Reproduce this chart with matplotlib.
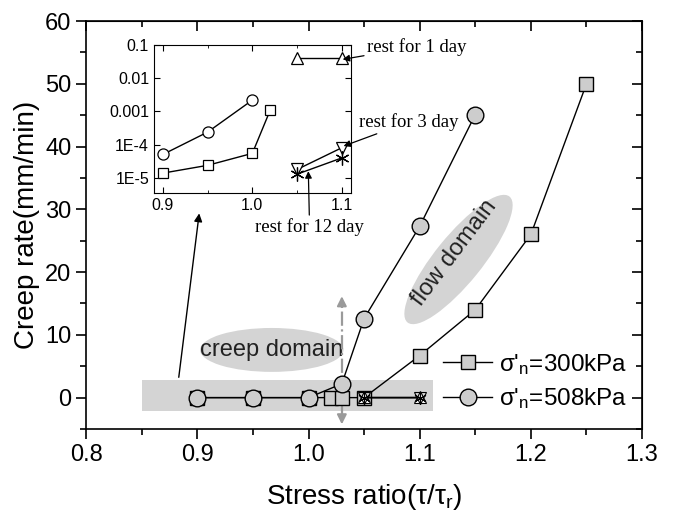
import matplotlib
matplotlib.use("Agg")
import matplotlib.pyplot as plt
from matplotlib.patches import Ellipse, Rectangle
import numpy as np

plt.rcParams['font.family'] = ['Liberation Sans', 'DejaVu Sans']
plt.rcParams['mathtext.fontset'] = 'custom'
plt.rcParams['mathtext.rm'] = 'Liberation Sans'
plt.rcParams['mathtext.it'] = 'Liberation Sans:italic'

# ---- main data ----
x_300 = [0.9, 0.95, 1.0, 1.02, 1.03, 1.05, 1.1, 1.15, 1.2, 1.25]
y_300 = [0, 0, 0, 0, 0, 0, 6.7, 14.0, 26.0, 50.0]
x_508 = [0.9, 0.95, 1.0, 1.03, 1.05, 1.1, 1.15]
y_508 = [0, 0, 0, 2.2, 12.6, 27.3, 45.1]
x_rest = [1.05, 1.1]
y_rest1 = [0.041, 0.041]
y_rest3 = [1.8e-5, 8.1e-5]
y_rest12 = [1.3e-5, 4.0e-5]

# ---- inset data ----
xi_300 = [0.9, 0.95, 1.0, 1.02]
yi_300 = [1.4e-5, 2.4e-5, 5.5e-5, 1.1e-3]
xi_508 = [0.9, 0.95, 1.0]
yi_508 = [5.1e-5, 2.4e-4, 2.2e-3]

labels = ["σ'$_{\\rm n}$=300kPa", "σ'$_{\\rm n}$=508kPa"]
xticks = [0.8, 0.9, 1.0, 1.1, 1.2, 1.3]
yticks = [0, 10, 20, 30, 40, 50, 60]
inset_xticks = [0.9, 1.0, 1.1]
inset_yticks = [1e-5, 1e-4, 1e-3, 1e-2, 1e-1]
inset_yticklabels = ['1E-5', '1E-4', '0.001', '0.01', '0.1']

gray = '#cdcdcd'
fig = plt.figure(figsize=(6.73, 5.15), dpi=100)
ax = fig.add_axes([0.128, 0.167, 0.826, 0.792])

# background shapes
ax.add_patch(Rectangle((0.85, -2.2), 0.262, 5.0, facecolor='#d4d4d4', edgecolor='none', zorder=0))
ax.add_patch(Ellipse((0.967, 7.6), 0.129, 7.0, facecolor='#d4d4d4', edgecolor='none', zorder=0))
ax.text(0.967, 7.6, 'creep domain', ha='center', va='center', fontsize=17, color='#222222', zorder=1)
fl = Ellipse((4.585, 2.555), 1.62, 0.47, angle=51, facecolor='#d4d4d4', edgecolor='none',
             transform=fig.dpi_scale_trans, zorder=0)
ax.add_patch(fl)
fig.text(4.54 / 6.73, 2.62 / 5.15, 'flow domain', rotation=53, ha='center', va='center',
         fontsize=17, color='#222222', rotation_mode='anchor')

# dash-dot double arrow
ax.plot([1.03, 1.03], [-3.5, 15.0], color='#9a9a9a', ls='-.', lw=1.6, zorder=1)
ax.annotate('', xy=(1.03, 16.6), xytext=(1.03, 14.0),
            arrowprops=dict(arrowstyle='-|>', color='#9a9a9a', lw=1.5, mutation_scale=14), zorder=1)
ax.annotate('', xy=(1.03, -4.7), xytext=(1.03, -2.5),
            arrowprops=dict(arrowstyle='-|>', color='#9a9a9a', lw=1.5, mutation_scale=14), zorder=1)

# series
ax.plot(x_300, y_300, '-', color='black', lw=1, marker='s', ms=10.5, mfc=gray, mec='black',
        mew=1, zorder=3, label=labels[0])
ax.plot(x_508, y_508, '-', color='black', lw=1, marker='o', ms=12, mfc=gray, mec='black',
        mew=1, zorder=4, label=labels[1])
ax.plot(x_rest, y_rest1, '-', color='black', lw=1, marker='^', ms=8, mfc='white', mec='black', mew=0.8, zorder=5)
ax.plot(x_rest, y_rest3, '-', color='black', lw=1, marker='v', ms=8, mfc='none', mec='black', mew=0.8, zorder=5)
ax.plot(x_rest, y_rest12, '-', color='black', lw=1, marker=(6, 2, 0), ms=9, mec='black', mew=0.8, zorder=5)

# arrow to inset
ax.annotate('', xy=(0.902, 29.8), xytext=(0.883, 2.8),
            arrowprops=dict(arrowstyle='-|>', color='black', lw=1, mutation_scale=12), zorder=6)

ax.set_xlim(0.8, 1.3)
ax.set_ylim(-5, 60)
ax.set_xticks(xticks)
ax.set_xticklabels([f'{v:.1f}' for v in xticks])
ax.set_yticks(yticks)
ax.set_xticks(np.arange(0.85, 1.3, 0.1), minor=True)
ax.set_yticks(np.arange(-5, 60, 10), minor=True)
ax.tick_params(axis='both', which='both', direction='out', labelsize=17, width=1.2)
ax.tick_params(which='major', length=7)
ax.tick_params(which='minor', length=4)
for s in ax.spines.values():
    s.set_linewidth(1.2)
sx = ax.secondary_xaxis('top')
sx.set_xticks(xticks, labels=[])
sx.set_xticks(np.arange(0.85, 1.3, 0.1), minor=True)
sx.tick_params(which='both', direction='in', width=1.2)
sx.tick_params(which='major', length=7)
sx.tick_params(which='minor', length=4)
sy = ax.secondary_yaxis('right')
sy.set_yticks(yticks, labels=[])
sy.set_yticks(np.arange(-5, 60, 10), minor=True)
sy.tick_params(which='both', direction='in', width=1.2)
sy.tick_params(which='major', length=7)
sy.tick_params(which='minor', length=4)

ax.set_xlabel('Stress ratio(τ/τ$_{\\rm r}$)', fontsize=20, labelpad=12)
ax.set_ylabel('Creep rate(mm/min)', fontsize=20, labelpad=4)

ax.legend(loc='lower right', bbox_to_anchor=(1.0, 0.008), frameon=False, fontsize=17.5,
          handlelength=2.0, handletextpad=0.3, labelspacing=0.4, borderaxespad=0.2)

# ---- inset ----
ins = fig.add_axes([0.2288, 0.6258, 0.2923, 0.2868])
ins.set_yscale('log')
ins.plot(xi_300, yi_300, '-', color='black', lw=1, marker='s', ms=7, mfc='white', mec='black', mew=0.9)
ins.plot(xi_508, yi_508, '-', color='black', lw=1, marker='o', ms=8, mfc='white', mec='black', mew=0.9)
ins.plot(x_rest, y_rest1, '-', color='black', lw=1, marker='^', ms=9, mfc='white', mec='black', mew=0.9)
ins.plot(x_rest, y_rest3, '-', color='black', lw=1, marker='v', ms=9, mfc='white', mec='black', mew=0.9)
ins.plot(x_rest, y_rest12, '-', color='black', lw=1, marker=(6, 2, 0), ms=10, mec='black', mew=0.9)
ins.set_xlim(0.89, 1.11)
ins.set_ylim(3.6e-6, 0.1)
ins.set_xticks(inset_xticks)
ins.set_xticklabels([f'{v:.1f}' for v in inset_xticks])
ins.set_xticks([0.95, 1.05], minor=True)
ins.set_yticks(inset_yticks)
ins.set_yticklabels(inset_yticklabels)
ins.tick_params(axis='both', which='both', direction='in', labelsize=11.5, top=True, right=True)
ins.tick_params(which='major', length=4)
ins.tick_params(which='minor', length=2)
ins.patch.set_alpha(0)

tkw = dict(family='Liberation Serif', fontsize=13.5, annotation_clip=False)
apr = dict(arrowstyle='-|>', color='black', lw=0.9, mutation_scale=10, shrinkA=0, shrinkB=0)
ins.annotate('rest for 1 day', xy=(1.101, 0.037), xytext=(1.128, 0.089), ha='left', va='center',
             arrowprops=apr, **tkw)
ins.annotate('rest for 3 day', xy=(1.102, 9.1e-5), xytext=(1.119, 4.8e-4), ha='left', va='center',
             arrowprops=apr, **tkw)
ins.annotate('rest for 12 day', xy=(1.0626, 1.6e-5), xytext=(1.064, 3.4e-7), ha='center', va='center',
             arrowprops=apr, **tkw)

fig.savefig('out.png', dpi=100)
